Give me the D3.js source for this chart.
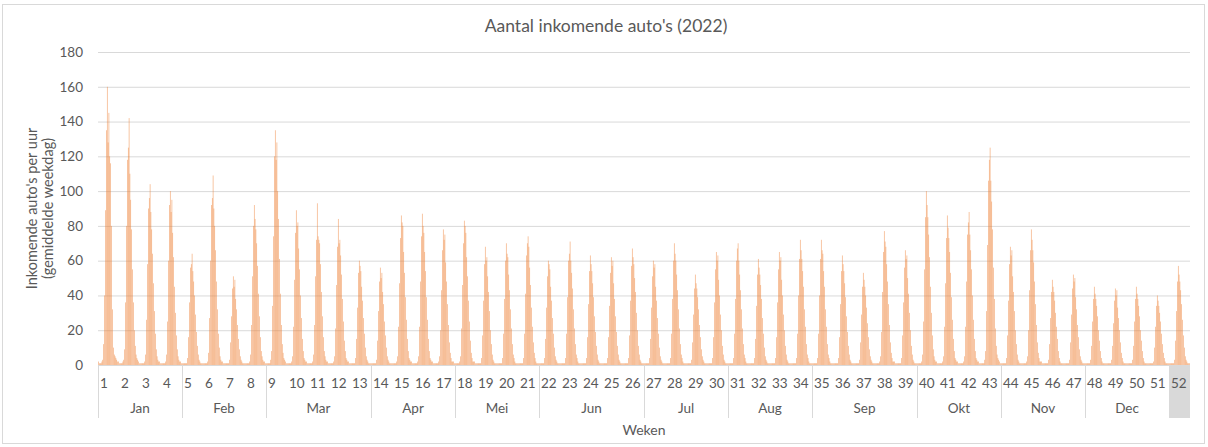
<!DOCTYPE html>
<html>
<head>
<meta charset="utf-8">
<script src="https://cdn.jsdelivr.net/npm/d3@7"></script>
<style>
  html, body { margin: 0; padding: 0; background: #fff; }
  svg { display: block; font-family: Lato, "Open Sans", sans-serif; }
</style>
</head>
<body>
<svg id="chart" width="1208" height="447"></svg>
<script>
// ---- data ----
const chartTitle = "Aantal inkomende auto's (2022)";
const yTitle = ["Inkomende auto's per uur", "(gemiddelde weekdag)"];
const xTitle = "Weken";
const yTicks = [0, 20, 40, 60, 80, 100, 120, 140, 160, 180];
const weeks = d3.range(1, 53);
const hours = d3.range(24);
const monthNames = ["Jan", "Feb", "Mar", "Apr", "Mei", "Jun", "Jul", "Aug", "Sep", "Okt", "Nov", "Dec"];
const monthWeekCounts = [4, 4, 5, 4, 4, 5, 4, 4, 5, 4, 4, 4];
const highlightedWeek = 52;
// average weekday incoming cars per hour (0..23), one row per week
const hourly = [
  [2,1,1,1,2,3,12,40,89,135,160,128,145,120,116,80,32,10,6,5,4,3,2,2],
  [1,1,1,1,2,3,9,36,80,118,125,142,110,95,78,55,36,20,11,6,4,3,2,1],
  [1,1,1,1,1,2,6,26,58,90,96,104,88,78,64,47,31,18,9,5,3,2,2,1],
  [1,1,1,1,1,2,6,25,60,92,100,88,95,76,62,45,30,17,9,5,3,2,2,1],
  [1,1,1,1,1,1,4,16,36,56,58,64,54,48,40,29,19,11,6,3,2,1,1,1],
  [1,1,1,1,1,2,7,27,60,92,96,109,90,80,66,48,32,18,10,5,3,2,2,1],
  [1,1,1,1,1,1,3,13,28,44,51,45,49,38,32,23,15,9,5,3,2,1,1,1],
  [1,1,1,1,1,2,6,23,51,80,92,84,78,70,57,41,28,16,8,5,3,2,2,1],
  [1,1,1,1,1,3,8,34,74,120,135,118,128,100,84,61,41,23,12,7,4,3,2,1],
  [1,1,1,1,1,2,5,22,49,76,89,80,82,67,55,40,27,15,8,4,3,2,2,1],
  [1,1,1,1,1,2,6,23,51,72,93,74,72,70,58,42,28,16,8,5,3,2,2,1],
  [1,1,1,1,1,2,5,21,46,68,84,70,72,63,52,38,25,14,8,4,3,2,2,1],
  [1,1,1,1,1,1,4,15,33,53,60,57,54,45,37,27,18,10,5,3,2,1,1,1],
  [1,1,1,1,1,1,3,14,31,48,56,50,53,42,35,25,17,10,5,3,2,1,1,1],
  [1,1,1,1,1,2,5,22,47,73,86,82,80,65,53,39,26,15,8,4,3,2,2,1],
  [1,1,1,1,1,2,5,22,48,74,87,80,76,65,54,39,26,15,8,4,3,2,2,1],
  [1,1,1,1,1,2,5,20,43,66,78,72,75,59,48,35,23,13,7,4,2,2,2,1],
  [1,1,1,1,1,2,5,21,46,70,83,80,76,62,51,37,25,14,7,4,2,2,2,1],
  [1,1,1,1,1,1,4,17,37,58,68,60,62,51,42,31,20,12,6,3,2,1,1,1],
  [1,1,1,1,1,1,4,18,38,60,70,64,62,52,43,32,21,12,6,4,2,1,1,1],
  [1,1,1,1,1,1,4,18,41,63,70,74,68,56,46,33,22,13,7,4,2,1,1,1],
  [1,1,1,1,1,1,4,15,33,51,60,58,55,45,37,27,18,10,5,3,2,1,1,1],
  [1,1,1,1,1,1,4,18,39,60,64,71,60,53,44,32,21,12,6,4,2,1,1,1],
  [1,1,1,1,1,1,4,16,35,54,63,58,54,47,39,28,19,11,6,3,2,1,1,1],
  [1,1,1,1,1,1,4,16,34,53,62,57,60,47,38,28,19,11,6,3,2,1,1,1],
  [1,1,1,1,1,1,4,17,37,57,67,62,58,50,42,30,20,11,6,3,2,1,1,1],
  [1,1,1,1,1,1,4,15,33,51,60,56,58,45,37,27,18,10,5,3,2,1,1,1],
  [1,1,1,1,1,1,4,18,38,60,70,64,60,52,43,32,21,12,6,4,2,1,1,1],
  [1,1,1,1,1,1,3,13,29,44,52,47,44,39,32,23,16,9,5,3,2,1,1,1],
  [1,1,1,1,1,1,4,16,36,55,65,60,63,49,40,29,20,11,6,3,2,1,1,1],
  [1,1,1,1,1,1,4,18,38,60,67,70,60,52,43,32,21,12,6,4,2,1,1,1],
  [1,1,1,1,1,1,4,15,34,52,61,56,52,46,38,27,18,10,5,3,2,1,1,1],
  [1,1,1,1,1,1,4,16,36,55,65,60,62,49,40,29,20,11,6,3,2,1,1,1],
  [1,1,1,1,1,1,4,18,40,61,72,66,61,54,45,32,22,12,6,4,2,1,1,1],
  [1,1,1,1,1,1,4,18,40,61,72,66,64,54,45,32,22,12,6,4,2,1,1,1],
  [1,1,1,1,1,1,4,16,35,54,63,58,54,47,39,28,19,11,6,3,2,1,1,1],
  [1,1,1,1,1,1,3,13,29,45,53,49,45,40,33,24,16,9,5,3,2,1,1,1],
  [1,1,1,1,1,2,5,19,42,65,77,71,68,58,48,35,23,13,7,4,2,2,2,1],
  [1,1,1,1,1,1,4,17,36,56,66,61,63,50,41,30,20,11,6,3,2,1,1,1],
  [1,1,1,1,1,2,6,25,55,85,100,92,85,75,62,45,30,17,9,5,3,2,2,1],
  [1,1,1,1,1,2,5,22,47,73,86,79,73,65,53,39,26,15,8,4,3,2,2,1],
  [1,1,1,1,1,2,5,22,48,75,82,88,75,66,55,40,26,15,8,4,3,2,2,1],
  [1,1,1,1,1,3,8,31,69,106,118,125,106,94,78,56,38,21,11,6,4,3,2,1],
  [1,1,1,1,1,1,4,17,37,58,68,63,66,51,42,31,20,12,6,3,2,1,1,1],
  [1,1,1,1,1,2,5,20,43,66,78,72,66,59,48,35,23,13,7,4,2,2,2,1],
  [1,1,1,1,1,1,3,12,27,42,49,45,42,37,30,22,15,8,4,2,1,1,1,1],
  [1,1,1,1,1,1,3,13,29,44,52,48,50,39,32,23,16,9,5,3,2,1,1,1],
  [1,1,1,1,1,1,3,11,25,38,45,41,38,34,28,20,14,8,4,2,1,1,1,1],
  [1,1,1,1,1,1,3,11,24,37,44,40,43,33,27,20,13,7,4,2,1,1,1,1],
  [1,1,1,1,1,1,3,11,25,38,45,41,38,34,28,20,14,8,4,2,1,1,1,1],
  [1,1,1,1,1,1,2,10,22,34,40,37,34,30,25,18,12,7,4,2,1,1,1,1],
  [1,1,1,1,1,1,3,14,31,48,57,52,48,43,35,26,17,10,5,3,2,1,1,1]
];

// ---- layout ----
const svg = d3.select("#chart");
const W = 1208, H = 447;
const plot = { left: 98, right: 1190, top: 52, bottom: 365 };
const catBottom = 418;
const textColor = "#595959";
const gridColor = "#D9D9D9";
const barColor = "#ED7D31";

svg.append("rect").attr("x", 2.5).attr("y", 4.5).attr("width", W - 6).attr("height", H - 8)
  .attr("fill", "#fff").attr("stroke", gridColor).attr("stroke-width", 1);

const x = d3.scaleBand().domain(weeks).range([plot.left, plot.right]).padding(0);
const xh = d3.scaleBand().domain(hours).range([0, x.bandwidth()]).paddingInner(0.5).paddingOuter(0.25);
const y = d3.scaleLinear().domain([0, 180]).range([plot.bottom, plot.top]);

// gridlines + y labels
const yAxis = d3.axisLeft(y).tickValues(yTicks).tickSize(-(plot.right - plot.left)).tickPadding(15);
const gy = svg.append("g").attr("transform", `translate(${plot.left},0)`).call(yAxis);
gy.select(".domain").remove();
gy.selectAll(".tick line").attr("stroke", gridColor).attr("stroke-width", 1);
gy.selectAll(".tick text").attr("fill", textColor).attr("font-size", "13.5px")
  .attr("font-family", "Lato, 'Open Sans', sans-serif");

// week 52 grey highlight cell
svg.append("rect")
  .attr("x", x(highlightedWeek)).attr("y", plot.bottom)
  .attr("width", x.bandwidth()).attr("height", catBottom - plot.bottom)
  .attr("fill", "#D9D9D9");

// bars
const flat = [];
hourly.forEach((row, i) => row.forEach((v, h) => flat.push({ week: weeks[i], hour: h, value: v })));
svg.append("g").selectAll("rect").data(flat).join("rect")
  .attr("x", d => x(d.week) + xh(d.hour))
  .attr("width", xh.bandwidth())
  .attr("y", d => y(d.value))
  .attr("height", d => y(0) - y(d.value))
  .attr("fill", barColor);

// x axis line
svg.append("line").attr("x1", plot.left).attr("x2", plot.right)
  .attr("y1", plot.bottom + 0.5).attr("y2", plot.bottom + 0.5)
  .attr("stroke", gridColor);

// week labels
svg.append("g").selectAll("text").data(weeks).join("text")
  .attr("x", d => x(d) + 2)
  .attr("y", 388)
  .attr("fill", textColor).attr("font-size", "13.5px")
  .text(d => d);

// month groups
let cum = 0;
const monthGroups = monthNames.map((m, i) => {
  const start = weeks[cum];
  const end = weeks[cum + monthWeekCounts[i] - 1];
  cum += monthWeekCounts[i];
  return { name: m, x0: x(start), x1: x(end) + x.bandwidth() };
});
const seps = [monthGroups[0].x0].concat(monthGroups.map(g => g.x1));
svg.append("g").selectAll("line").data(seps).join("line")
  .attr("x1", d => Math.round(d) + 0.5).attr("x2", d => Math.round(d) + 0.5)
  .attr("y1", plot.bottom).attr("y2", catBottom)
  .attr("stroke", gridColor);
svg.append("g").selectAll("text").data(monthGroups).join("text")
  .attr("x", d => (d.x0 + d.x1) / 2)
  .attr("y", 413)
  .attr("text-anchor", "middle")
  .attr("fill", textColor).attr("font-size", "13.5px")
  .text(d => d.name);

// titles
svg.append("text").attr("x", (plot.left + plot.right) / 2 - 38).attr("y", 32)
  .attr("text-anchor", "middle").attr("fill", textColor).attr("font-size", "17.5px")
  .text(chartTitle);
svg.append("text").attr("x", (plot.left + plot.right) / 2).attr("y", 435)
  .attr("text-anchor", "middle").attr("fill", textColor).attr("font-size", "14px")
  .text(xTitle);
const yt = svg.append("text").attr("transform", `translate(37,${(plot.top + plot.bottom) / 2}) rotate(-90)`)
  .attr("text-anchor", "middle").attr("fill", textColor).attr("font-size", "14.5px");
yt.append("tspan").attr("x", 0).attr("dy", 0).text(yTitle[0]);
yt.append("tspan").attr("x", 0).attr("dy", 16).text(yTitle[1]);
</script>
</body>
</html>
